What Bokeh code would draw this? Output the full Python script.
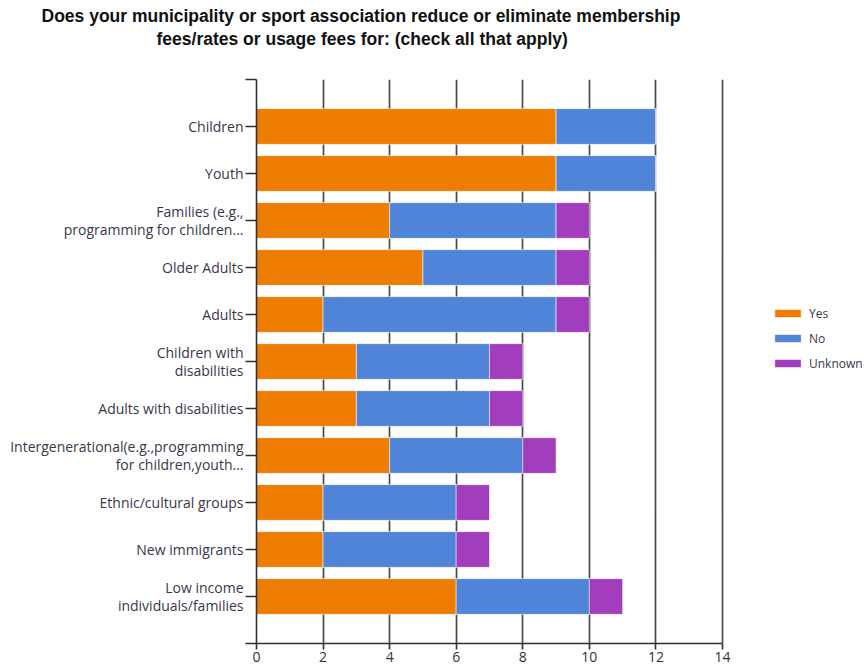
from bokeh.plotting import figure
from bokeh.models import (Range1d, FixedTicker, Title, Legend, LegendItem,
                          ColumnDataSource)
from bokeh.embed import file_html
from bokeh.resources import INLINE

# Survey answers per group (counts of respondents)
categories = [
    "Children",
    "Youth",
    "Families (e.g.,\nprogramming for children...",
    "Older Adults",
    "Adults",
    "Children with\ndisabilities",
    "Adults with disabilities",
    "Intergenerational(e.g.,programming\nfor children,youth...",
    "Ethnic/cultural groups",
    "New immigrants",
    "Low income\nindividuals/families",
]
yes = [9, 9, 4, 5, 2, 3, 3, 4, 2, 2, 6]
no = [3, 3, 5, 4, 7, 4, 4, 4, 4, 4, 4]
unknown = [0, 0, 1, 1, 1, 1, 1, 1, 1, 1, 1]
series = ["Yes", "No", "Unknown"]
x_ticks = [0, 2, 4, 6, 8, 10, 12, 14]
title_lines = ["Does your municipality or sport association reduce or eliminate membership",
               "fees/rates or usage fees for: (check all that apply)"]

colors = ["#ee7c00", "#4f84d9", "#a23dbd"]
TITLE_FONT = "Liberation Sans"
FONT = "Open Sans"

pos = list(range(1, len(categories) + 1))
yes_end = yes
no_end = [a + b for a, b in zip(yes, no)]
unk_end = [a + b for a, b in zip(no_end, unknown)]

src = ColumnDataSource(dict(
    y=pos,
    yes_l=[0] * len(pos), yes_r=yes_end,
    no_l=yes_end, no_r=no_end,
    unk_l=no_end, unk_r=unk_end,
))

# The plotting area runs to the right edge so the legend can sit beside the bars;
# the value axis itself stops at 14.
x_max = 14
px_per_unit = (722 - 256) / x_max
x_end = (864 - 256) / px_per_unit

p = figure(width=864, height=669, output_backend="svg", toolbar_location=None,
           title_location=None,
           x_range=Range1d(0, x_end), y_range=Range1d(len(pos) + 1, 0),
           min_border_left=256, min_border_right=0,
           min_border_top=79, min_border_bottom=26)
p.outline_line_color = None
p.background_fill_color = "white"
p.border_fill_color = "white"

# Vertical grid lines
p.xgrid.ticker = FixedTicker(ticks=x_ticks)
p.xgrid.grid_line_color = "#4a4a4a"
p.xgrid.grid_line_width = 1.7
p.ygrid.grid_line_color = None

# Horizontal stacked bars
h = 0.76
common = dict(height=h, line_color="white", line_alpha=0.55, line_width=1)
r_yes = p.hbar(y="y", left="yes_l", right="yes_r", source=src,
               fill_color=colors[0], **common)
r_no = p.hbar(y="y", left="no_l", right="no_r", source=src,
              fill_color=colors[1], **common)
r_unk = p.hbar(y="y", left="unk_l", right="unk_r", source=src,
               fill_color=colors[2], **common)

# Bottom axis
xa = p.xaxis[0]
xa.ticker = FixedTicker(ticks=x_ticks)
xa.bounds = (0, x_max)
xa.axis_line_color = "#303030"
xa.axis_line_width = 1.6
xa.major_tick_line_color = "#303030"
xa.major_tick_line_width = 1.6
xa.major_tick_in = 0
xa.major_tick_out = 6
xa.minor_tick_line_color = None
xa.major_label_text_font = FONT
xa.major_label_text_font_size = "14px"
xa.major_label_text_color = "#333333"
xa.major_label_standoff = 2

# Left axis with one tick per group
ya = p.yaxis[0]
ya.ticker = FixedTicker(ticks=[0] + pos + [len(pos) + 1])
overrides = {i: c for i, c in zip(pos, categories)}
overrides[0] = ""
overrides[len(pos) + 1] = ""
ya.major_label_overrides = overrides
ya.axis_line_color = "#303030"
ya.axis_line_width = 1.6
ya.major_tick_line_color = "#303030"
ya.major_tick_line_width = 1.3
ya.major_tick_in = 0
ya.major_tick_out = 11
ya.minor_tick_line_color = None
ya.major_label_text_font = FONT
ya.major_label_text_font_size = "14px"
ya.major_label_text_line_height = 0.9
ya.major_label_text_color = "#38384a"
ya.major_label_standoff = 2

# Gap between the title block and the plot, then the two title lines
# (each title added to "above" is stacked further from the plot)
p.add_layout(Title(text=" ", text_font_size="1px", standoff=27), "above")
for txt, off in [(title_lines[1], -100), (title_lines[0], -215)]:
    p.add_layout(Title(text=txt, align="left", offset=off,
                       standoff=1, text_font=TITLE_FONT,
                       text_font_style="bold", text_font_size="17.5px",
                       text_color="#111111"), "above")

legend = Legend(items=[LegendItem(label=s, renderers=[r])
                       for s, r in zip(series, [r_yes, r_no, r_unk])],
                location=(515, 270), orientation="vertical",
                glyph_width=33, glyph_height=10, label_height=20,
                spacing=5, padding=0, margin=0, label_standoff=5,
                label_text_font=FONT, label_text_font_size="12px",
                label_text_color="#38384a",
                border_line_color=None, background_fill_alpha=0)
p.add_layout(legend)

open("out.html", "w").write(file_html(p, INLINE))
